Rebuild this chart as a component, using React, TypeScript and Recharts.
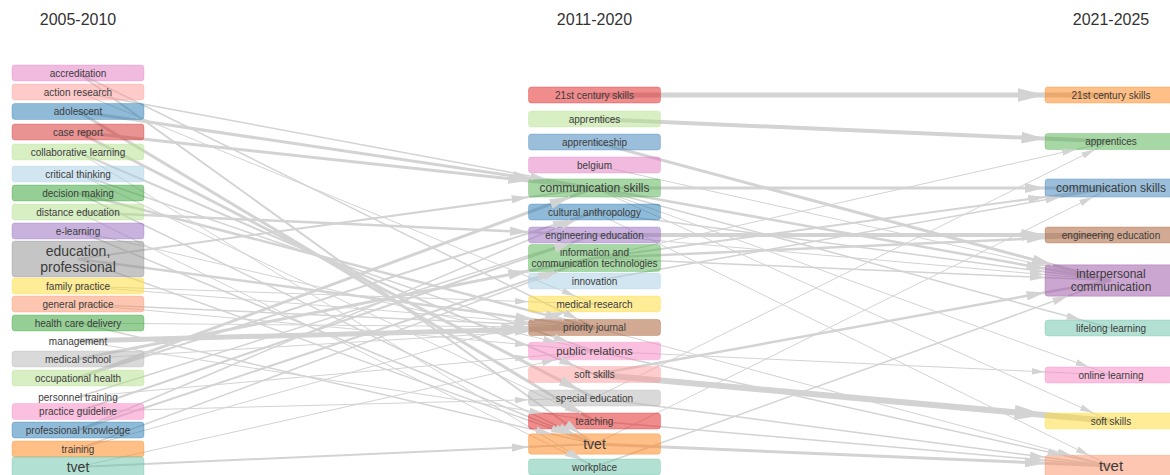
import { ScatterChart, Scatter, XAxis, YAxis } from "recharts"

const periods = ["2005-2010", "2011-2020", "2021-2025"]

// left column: 2005-2010
const earlyTerms = [
  "accreditation", "action research", "adolescent", "case report", "collaborative learning",
  "critical thinking", "decision making", "distance education", "e-learning", "education, professional",
  "family practice", "general practice", "health care delivery", "management", "medical school",
  "occupational health", "personnel training", "practice guideline", "professional knowledge", "training", "tvet",
]
const earlyPos = [73, 92, 111.5, 132, 152, 174, 193, 212, 231, 259, 286, 304, 323, 341, 359, 378, 397, 411.5, 430, 449, 467]
const earlyWeight = [1, 1, 1, 1, 1, 1, 1, 1, 1, 4, 1, 1, 1, 1, 1, 1, 1, 1, 1, 1, 4]

// middle column: 2011-2020
const midTerms = [
  "21st century skills", "apprentices", "apprenticeship", "belgium", "communication skills",
  "cultural anthropology", "engineering education", "information and communication technologies", "innovation",
  "medical research", "priority journal", "public relations", "soft skills", "special education", "teaching", "tvet", "workplace",
]
const midPos = [95, 119, 142, 165, 188, 212, 235, 258, 281, 304, 327.5, 351, 374.5, 398, 421, 444, 467]
const midWeight = [1, 1, 1, 1, 3, 1, 1, 1, 1, 1, 1, 2, 1, 1, 1, 4, 1]

// right column: 2021-2025
const lateTerms = [
  "21st century skills", "apprentices", "communication skills", "engineering education",
  "interpersonal communication", "lifelong learning", "online learning", "soft skills", "tvet",
]
const latePos = [95, 141.5, 188, 235, 280.5, 328, 375, 421, 466]
const lateWeight = [1, 1, 3, 1, 3, 1, 1, 1, 5]

// [from, to, strength]
const earlyToMid: [string, string, number][] = [
  ["accreditation", "priority journal", 1.5],
  ["accreditation", "tvet", 2],
  ["action research", "communication skills", 1.5],
  ["action research", "medical research", 1],
  ["adolescent", "communication skills", 3],
  ["adolescent", "teaching", 3],
  ["case report", "communication skills", 3],
  ["case report", "special education", 3],
  ["collaborative learning", "soft skills", 2],
  ["collaborative learning", "workplace", 1],
  ["critical thinking", "public relations", 1.5],
  ["critical thinking", "teaching", 1],
  ["decision making", "priority journal", 2.5],
  ["decision making", "tvet", 1.5],
  ["distance education", "engineering education", 2.5],
  ["distance education", "workplace", 1],
  ["e-learning", "tvet", 1.5],
  ["e-learning", "public relations", 1],
  ["education, professional", "communication skills", 2],
  ["education, professional", "priority journal", 2.5],
  ["education, professional", "tvet", 1.5],
  ["family practice", "priority journal", 1],
  ["family practice", "medical research", 1],
  ["general practice", "priority journal", 1.5],
  ["general practice", "public relations", 1],
  ["health care delivery", "priority journal", 1],
  ["health care delivery", "tvet", 1.5],
  ["management", "priority journal", 5],
  ["management", "teaching", 1],
  ["medical school", "information and communication technologies", 3],
  ["medical school", "priority journal", 1],
  ["occupational health", "communication skills", 3],
  ["occupational health", "cultural anthropology", 2],
  ["personnel training", "engineering education", 1.5],
  ["personnel training", "public relations", 1],
  ["practice guideline", "engineering education", 2],
  ["practice guideline", "special education", 1],
  ["professional knowledge", "information and communication technologies", 2],
  ["professional knowledge", "cultural anthropology", 1.5],
  ["training", "information and communication technologies", 1.5],
  ["training", "medical research", 1],
  ["tvet", "tvet", 2],
  ["tvet", "public relations", 1],
]

const midToLate: [string, string, number][] = [
  ["21st century skills", "21st century skills", 5],
  ["apprentices", "apprentices", 4],
  ["apprenticeship", "interpersonal communication", 3],
  ["belgium", "interpersonal communication", 1],
  ["communication skills", "communication skills", 3],
  ["communication skills", "interpersonal communication", 2.5],
  ["communication skills", "lifelong learning", 1.5],
  ["communication skills", "online learning", 1],
  ["communication skills", "soft skills", 1],
  ["cultural anthropology", "interpersonal communication", 1.5],
  ["cultural anthropology", "tvet", 1],
  ["engineering education", "engineering education", 4],
  ["engineering education", "interpersonal communication", 1],
  ["information and communication technologies", "communication skills", 2],
  ["information and communication technologies", "apprentices", 1],
  ["information and communication technologies", "engineering education", 2.5],
  ["information and communication technologies", "interpersonal communication", 1.5],
  ["innovation", "communication skills", 1.5],
  ["priority journal", "tvet", 1],
  ["public relations", "online learning", 1],
  ["public relations", "tvet", 1.5],
  ["soft skills", "soft skills", 6],
  ["soft skills", "interpersonal communication", 2.5],
  ["special education", "tvet", 1.5],
  ["special education", "apprentices", 1],
  ["teaching", "tvet", 1.5],
  ["tvet", "tvet", 3],
  ["tvet", "communication skills", 1],
  ["workplace", "interpersonal communication", 1.5],
]

// box colours (drawn half transparent), null = no box
const earlyColors = [
  "#e377c2", "#ff9896", "#1f77b4", "#d62728", "#b2df8a", "#a6cee3", "#2ca02c", "#b2df8a", "#9467bd", "#8c8c8c",
  "#ffd92f", "#fc8d62", "#2ca02c", null, "#b3b3b3", "#b2df8a", null, "#f781bf", "#1f77b4", "#ff7f0e", "#66c2a5",
]
const midColors = [
  "#e41a1c", "#b2df8a", "#377eb8", "#e377c2", "#4daf4a", "#1f77b4", "#9467bd", "#4daf4a", "#a6cee3",
  "#ffd92f", "#a65628", "#f781bf", "#fb9a99", "#b3b3b3", "#e41a1c", "#ff7f0e", "#66c2a5",
]
const lateColors = ["#ff7f0e", "#4daf4a", "#377eb8", "#a65628", "#984ea3", "#66c2a5", "#f781bf", "#ffd92f", "#fc8d62"]

const W = 1170
const H = 475
const M = { top: 0, right: 59, bottom: 0, left: 78 }
const Y_MAX = 475
const BOX_W = 132
const PX_X = (W - M.left - M.right) / 2
const PX_Y = (H - M.top - M.bottom) / Y_MAX
const LINK = "#d3d3d3"
const FONT = "'Liberation Sans', Arial, sans-serif"

type Node = { x: number; y: number; term: string; weight: number; color: string | null }

const fontFor = (w: number) => [10, 10, 11.5, 12, 14, 15][w]

function wrap(term: string, fs: number) {
  const out: string[] = []
  let cur = ""
  for (const word of term.split(" ")) {
    const next = cur ? cur + " " + word : word
    if (cur && next.length * fs * 0.48 > 128) {
      out.push(cur)
      cur = word
    } else cur = next
  }
  out.push(cur)
  return out
}

const boxH = (n: Node) => {
  const fs = fontFor(n.weight)
  return wrap(n.term, fs).length * fs * 1.1 + 5
}

const column = (col: number, terms: string[], pos: number[], weights: number[], colors: (string | null)[]): Node[] =>
  terms.map((term, i) => ({ x: col, y: pos[i], term, weight: weights[i], color: colors[i] }))

const columns = [
  column(0, earlyTerms, earlyPos, earlyWeight, earlyColors),
  column(1, midTerms, midPos, midWeight, midColors),
  column(2, lateTerms, latePos, lateWeight, lateColors),
]
const allNodes = columns.flat()

type Link = { s: Node; t: Node; w: number }
const links: Link[] = [earlyToMid, midToLate].flatMap((list, c) =>
  list.map(([a, b, w]) => ({
    s: columns[c].find((n) => n.term === a)!,
    t: columns[c + 1].find((n) => n.term === b)!,
    w,
  }))
)

// arrow tip sits where the centre-to-centre edge meets the target box
function tip(l: Link) {
  const dx = (l.t.x - l.s.x) * PX_X
  const dy = (l.t.y - l.s.y) * PX_Y
  const fx = dx ? BOX_W / 2 / Math.abs(dx) : Infinity
  const fy = dy ? boxH(l.t) / 2 / Math.abs(dy) : Infinity
  const f = Math.min(fx, fy)
  return { x: l.t.x - f * (l.t.x - l.s.x), y: l.t.y - f * (l.t.y - l.s.y) }
}

const markerId = (w: number) => `arrow-${String(w).replace(".", "_")}`
const widths = Array.from(new Set(links.map((l) => l.w)))

const noDot = () => <g />

const NodeShape = (props: any) => {
  const { cx, cy, payload } = props
  const n = payload as Node
  const fs = fontFor(n.weight)
  const lines = wrap(n.term, fs)
  const h = boxH(n)
  const lh = fs * 1.1
  return (
    <g>
      {n.color && (
        <rect
          x={cx - BOX_W / 2}
          y={cy - h / 2}
          width={BOX_W}
          height={h}
          rx={3}
          fill={n.color}
          fillOpacity={0.5}
          stroke={n.color}
          strokeOpacity={0.3}
        />
      )}
      <text textAnchor="middle" fontSize={fs} fill="#3c3c3c" fontFamily={FONT}>
        {lines.map((line, i) => (
          <tspan key={i} x={cx} y={cy - ((lines.length - 1) * lh) / 2 + i * lh + fs * 0.36}>
            {line}
          </tspan>
        ))}
      </text>
    </g>
  )
}

const PeriodTick = (props: any) => (
  <text x={props.x} y={25} textAnchor="middle" fontSize={16} fill="#333" fontFamily={FONT}>
    {periods[props.payload.value]}
  </text>
)

export default function App() {
  return (
    <div style={{ position: "absolute", left: 0, top: 0, width: W, height: H, background: "#fff", overflow: "hidden" }}>
      <ScatterChart width={W} height={H} margin={M}>
        <defs>
          {widths.map((w) => {
            const len = 10 + 3.4 * w
            return (
              <marker
                key={w}
                id={markerId(w)}
                viewBox="0 0 10 10"
                refX={10}
                refY={5}
                markerUnits="userSpaceOnUse"
                markerWidth={len}
                markerHeight={len * 0.5}
                preserveAspectRatio="none"
                orient="auto"
              >
                <path d="M0,0 L10,5 L0,10 z" fill={LINK} />
              </marker>
            )
          })}
        </defs>
        <XAxis
          type="number"
          dataKey="x"
          domain={[0, 2]}
          ticks={[0, 1, 2]}
          interval={0}
          orientation="top"
          mirror
          axisLine={false}
          tickLine={false}
          tick={<PeriodTick />}
        />
        <YAxis type="number" dataKey="y" domain={[0, Y_MAX]} reversed hide />
        {links.map((l, i) => (
          <Scatter
            key={`edge-${i}`}
            data={[
              { x: l.s.x, y: l.s.y },
              { x: l.t.x, y: l.t.y },
            ]}
            line={{ stroke: LINK, strokeWidth: l.w }}
            shape={noDot}
            legendType="none"
            isAnimationActive={false}
          />
        ))}
        <Scatter data={allNodes} shape={NodeShape} legendType="none" isAnimationActive={false} />
        {links.map((l, i) => {
          const p = tip(l)
          const k = 0.003
          return (
            <Scatter
              key={`arrow-${i}`}
              data={[
                { x: p.x - k * (l.t.x - l.s.x), y: p.y - k * (l.t.y - l.s.y) },
                { x: p.x, y: p.y },
              ]}
              line={{ stroke: LINK, strokeWidth: l.w, markerEnd: `url(#${markerId(l.w)})` }}
              shape={noDot}
              legendType="none"
              isAnimationActive={false}
            />
          )
        })}
      </ScatterChart>
    </div>
  )
}
